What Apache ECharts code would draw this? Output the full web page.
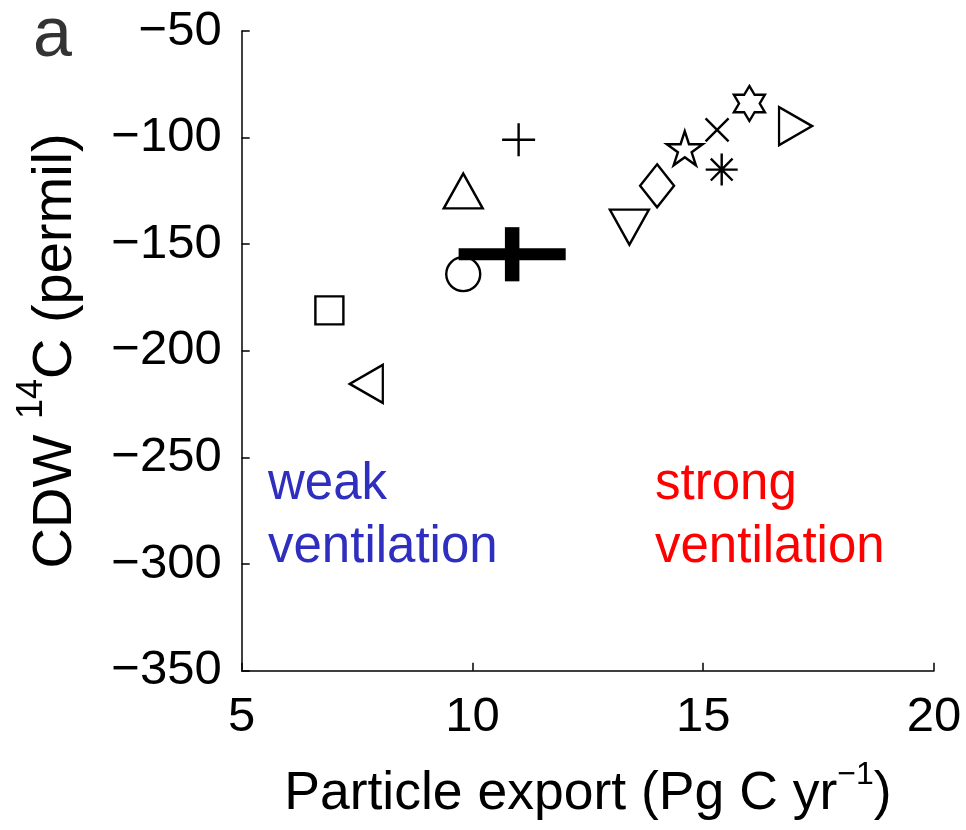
<!DOCTYPE html>
<html>
<head>
<meta charset="utf-8">
<script src="https://cdn.jsdelivr.net/npm/echarts@6/dist/echarts.min.js"></script>
<style>
  html, body { margin: 0; padding: 0; background: #fff; }
  #chart { width: 966px; height: 830px; }
</style>
</head>
<body>
<div id="chart"></div>
<script>
// Model results: particle export (Pg C / yr) vs. CDW radiocarbon (permil)
const exportFlux = [6.9, 7.7, 9.8, 9.8, 11.0, 13.4, 14.0, 14.6, 15.3, 15.4, 16.0, 17.0];
const cdw14C = [-181, -215.5, -164, -125, -101, -142, -122.6, -105, -96.4, -115, -84, -94.6];
const modelMarkers = ['square', 'triangleLeft', 'circle', 'triangleUp', 'plus', 'triangleDown',
                      'diamond', 'pentagram', 'cross', 'asterisk', 'hexagram', 'triangleRight'];

// Observational estimate (mean and half-width of the uncertainty range)
const obsExport = 10.86;
const obsExportErr = 1.16;
const obsC14 = -154.7;
const obsC14Err = 12.7;

// Axis ticks
const xTicks = [5, 10, 15, 20];
const yTicks = [-350, -300, -250, -200, -150, -100, -50];

const FONT = "'Liberation Sans', Arial, Helvetica, sans-serif";

function starPath(points, innerRatio) {
  const pts = [];
  for (let i = 0; i < points * 2; i++) {
    const r = i % 2 === 0 ? 1 : innerRatio;
    const a = -Math.PI / 2 + i * Math.PI / points;
    pts.push((r * Math.cos(a)).toFixed(4) + ',' + (r * Math.sin(a)).toFixed(4));
  }
  return 'path://M' + pts.join('L') + 'Z';
}

// Marker shapes (outline only) and their drawn sizes in pixels
const markerStyles = {
  square:        { symbol: 'path://M0,0L10,0L10,10L0,10Z', size: [28, 28] },
  circle:        { symbol: 'circle', size: [34, 34] },
  triangleUp:    { symbol: 'path://M5,0L10,9L0,9Z', size: [39, 35] },
  triangleDown:  { symbol: 'path://M0,0L10,0L5,9Z', size: [39, 35] },
  triangleLeft:  { symbol: 'path://M0,5L9,0L9,10Z', size: [33, 38] },
  triangleRight: { symbol: 'path://M0,0L9,5L0,10Z', size: [33, 38] },
  diamond:       { symbol: 'path://M5,0L10,6.5L5,13L0,6.5Z', size: [34, 43] },
  plus:          { symbol: 'path://M0,5L10,5M5,0L5,10', size: [33, 33] },
  cross:         { symbol: 'path://M0,0L10,10M0,10L10,0', size: [23, 23] },
  asterisk:      { symbol: 'path://M0,5L10,5M5,0L5,10M1.6,1.6L8.4,8.4M1.6,8.4L8.4,1.6', size: [32, 32] },
  pentagram:     { symbol: starPath(5, 0.382), size: [36, 34] },
  hexagram:      { symbol: starPath(6, 0.577), size: [31, 35] }
};

const modelData = exportFlux.map(function (x, i) {
  const m = markerStyles[modelMarkers[i]];
  return { value: [x, cdw14C[i]], symbol: m.symbol, symbolSize: m.size };
});

const chart = echarts.init(document.getElementById('chart'), null, { renderer: 'canvas' });

const minusFmt = function (v) { return String(v).replace('-', '\u2212'); };

chart.setOption({
  backgroundColor: '#ffffff',
  animation: false,
  grid: { left: 241.7, right: 32, top: 31, bottom: 159.3, containLabel: false, outerBoundsMode: 'none' },
  xAxis: {
    type: 'value',
    min: xTicks[0],
    max: xTicks[xTicks.length - 1],
    interval: xTicks[1] - xTicks[0],
    axisLine: { show: true, onZero: false, lineStyle: { color: '#000', width: 1.5 } },
    axisTick: { show: true, inside: true, length: 8, lineStyle: { color: '#000', width: 1.5 } },
    splitLine: { show: false },
    axisLabel: { color: '#000', fontSize: 49, fontFamily: FONT, margin: 22, formatter: minusFmt },
    name: 'Particle export (Pg C yr{sup|\u22121})',
    nameLocation: 'middle',
    nameGap: 88,
    nameTextStyle: {
      color: '#000', fontSize: 53.5, fontFamily: FONT, lineHeight: 71,
      rich: {
        sup: { fontSize: 32, fontFamily: FONT, color: '#000', lineHeight: 32, padding: [0, 0, 39, 0] }
      }
    }
  },
  yAxis: {
    type: 'value',
    min: yTicks[0],
    max: yTicks[yTicks.length - 1],
    interval: yTicks[1] - yTicks[0],
    axisLine: { show: true, onZero: false, lineStyle: { color: '#000', width: 1.5 } },
    axisTick: { show: true, inside: true, length: 8, lineStyle: { color: '#000', width: 1.5 } },
    splitLine: { show: false },
    axisLabel: { color: '#000', fontSize: 49, fontFamily: FONT, margin: 20, formatter: minusFmt },
    name: 'CDW {sup|14}C (permil)',
    nameLocation: 'middle',
    nameGap: 144,
    nameTextStyle: {
      color: '#000', fontSize: 56, fontFamily: FONT, lineHeight: 84,
      rich: {
        sup: { fontSize: 36, fontFamily: FONT, color: '#000', lineHeight: 36, padding: [0, 0, 48, 0] }
      }
    }
  },
  series: [
    {
      type: 'scatter',
      silent: true,
      data: modelData,
      itemStyle: { color: 'none', borderColor: '#000', borderWidth: 2.4, opacity: 1 },
      emphasis: { disabled: true },
      z: 2
    },
    {
      type: 'custom',
      silent: true,
      z: 3,
      data: [[obsExport, obsC14, obsExportErr, obsC14Err]],
      renderItem: function (params, api) {
        const x = api.value(0), y = api.value(1), dx = api.value(2), dy = api.value(3);
        const l = api.coord([x - dx, y]);
        const r = api.coord([x + dx, y]);
        const t = api.coord([x, y + dy]);
        const b = api.coord([x, y - dy]);
        return {
          type: 'group',
          children: [
            { type: 'line', shape: { x1: l[0], y1: l[1], x2: r[0], y2: r[1] },
              style: { stroke: '#000', lineWidth: 12, lineCap: 'butt' } },
            { type: 'line', shape: { x1: t[0], y1: t[1], x2: b[0], y2: b[1] },
              style: { stroke: '#000', lineWidth: 14.5, lineCap: 'butt' } }
          ]
        };
      }
    }
  ],
  graphic: [
    {
      type: 'text', left: 33, top: 2,
      style: { text: 'a', fill: '#333', font: '70px ' + FONT }
    },
    {
      type: 'text', x: 268, y: 516, silent: true,
      style: { text: 'weak\nventilation', fill: '#2e2ebf', font: '51px ' + FONT,
               lineHeight: 63, align: 'left', verticalAlign: 'middle' }
    },
    {
      type: 'text', x: 655, y: 516, silent: true,
      style: { text: 'strong\nventilation', fill: '#ff0000', font: '51px ' + FONT,
               lineHeight: 63, align: 'left', verticalAlign: 'middle' }
    }
  ]
});
</script>
</body>
</html>
